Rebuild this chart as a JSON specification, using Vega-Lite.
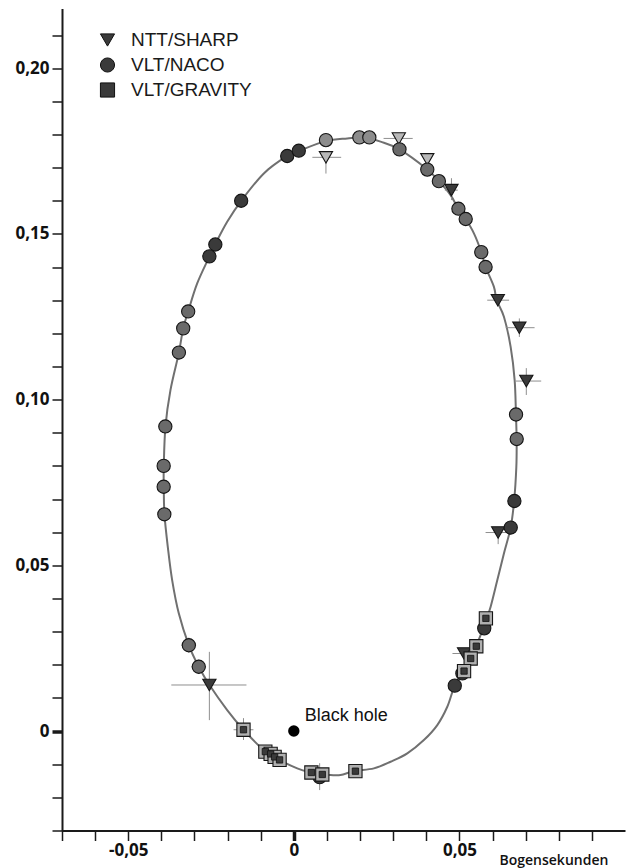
{
  "$schema": "https://vega.github.io/schema/vega-lite/v6.json",
  "width": 563,
  "height": 822,
  "autosize": {"type": "none"},
  "padding": {"left": 62, "top": 8.5, "right": 12, "bottom": 37.5},
  "background": "white",
  "config": {"view": {"stroke": null}},
  "datasets": {
    "bahn": [
      {"i": 1, "x": 0.01834, "y": -0.01207},
      {"i": 2, "x": 0.01411, "y": -0.01327},
      {"i": 3, "x": 0.01109, "y": -0.01327},
      {"i": 4, "x": 0.00837, "y": -0.01312},
      {"i": 5, "x": 0.00526, "y": -0.01252},
      {"i": 6, "x": 0.00103, "y": -0.01125},
      {"i": 7, "x": -0.00432, "y": -0.00875},
      {"i": 8, "x": -0.00855, "y": -0.00624},
      {"i": 9, "x": -0.0152, "y": 0.00039},
      {"i": 10, "x": -0.02012, "y": 0.00633},
      {"i": 11, "x": -0.02547, "y": 0.01388},
      {"i": 12, "x": -0.0287, "y": 0.0194},
      {"i": 13, "x": -0.03172, "y": 0.02594},
      {"i": 14, "x": -0.03474, "y": 0.03551},
      {"i": 15, "x": -0.03674, "y": 0.04555},
      {"i": 16, "x": -0.03801, "y": 0.0552},
      {"i": 17, "x": -0.03906, "y": 0.06537},
      {"i": 18, "x": -0.03927, "y": 0.0737},
      {"i": 19, "x": -0.03927, "y": 0.08003},
      {"i": 20, "x": -0.03876, "y": 0.09192},
      {"i": 21, "x": -0.03725, "y": 0.10287},
      {"i": 22, "x": -0.03474, "y": 0.11403},
      {"i": 23, "x": -0.03341, "y": 0.12148},
      {"i": 24, "x": -0.0319, "y": 0.12661},
      {"i": 25, "x": -0.02918, "y": 0.13505},
      {"i": 26, "x": -0.02547, "y": 0.1432},
      {"i": 27, "x": -0.02375, "y": 0.14682},
      {"i": 28, "x": -0.02012, "y": 0.15363},
      {"i": 29, "x": -0.01589, "y": 0.15997},
      {"i": 30, "x": -0.00906, "y": 0.16824},
      {"i": 31, "x": -0.00199, "y": 0.17354},
      {"i": 32, "x": 0.00151, "y": 0.17505},
      {"i": 33, "x": 0.00967, "y": 0.17798},
      {"i": 34, "x": 0.01613, "y": 0.17879},
      {"i": 35, "x": 0.02115, "y": 0.1791},
      {"i": 36, "x": 0.02619, "y": 0.17783},
      {"i": 37, "x": 0.03193, "y": 0.17548},
      {"i": 38, "x": 0.0403, "y": 0.16944},
      {"i": 39, "x": 0.04381, "y": 0.16591},
      {"i": 40, "x": 0.04734, "y": 0.16169},
      {"i": 41, "x": 0.04967, "y": 0.15756},
      {"i": 42, "x": 0.05187, "y": 0.15454},
      {"i": 43, "x": 0.05438, "y": 0.15014},
      {"i": 44, "x": 0.05662, "y": 0.14449},
      {"i": 45, "x": 0.05792, "y": 0.13997},
      {"i": 46, "x": 0.06042, "y": 0.13403},
      {"i": 47, "x": 0.06124, "y": 0.13002},
      {"i": 48, "x": 0.06344, "y": 0.12498},
      {"i": 49, "x": 0.06547, "y": 0.11593},
      {"i": 50, "x": 0.06668, "y": 0.10588},
      {"i": 51, "x": 0.06707, "y": 0.09563},
      {"i": 52, "x": 0.06728, "y": 0.08778},
      {"i": 53, "x": 0.06719, "y": 0.07973},
      {"i": 54, "x": 0.06653, "y": 0.06953},
      {"i": 55, "x": 0.06547, "y": 0.06139},
      {"i": 56, "x": 0.06344, "y": 0.0536},
      {"i": 57, "x": 0.06145, "y": 0.04555},
      {"i": 58, "x": 0.05943, "y": 0.0375},
      {"i": 59, "x": 0.05776, "y": 0.03258},
      {"i": 60, "x": 0.0552, "y": 0.02594},
      {"i": 61, "x": 0.05338, "y": 0.02187},
      {"i": 62, "x": 0.05142, "y": 0.0181},
      {"i": 63, "x": 0.04855, "y": 0.01357},
      {"i": 64, "x": 0.04634, "y": 0.00733},
      {"i": 65, "x": 0.04332, "y": 0.00181},
      {"i": 66, "x": 0.03927, "y": -0.00271},
      {"i": 67, "x": 0.03426, "y": -0.00673},
      {"i": 68, "x": 0.02921, "y": -0.00926},
      {"i": 69, "x": 0.02417, "y": -0.01125}
    ],
    "obs": [
      {"instrument": "NTT/SHARP", "gruppe": "c", "x": 0.0097, "y": 0.1731, "xlo": 0.0056, "xhi": 0.0143, "ylo": 0.1682, "yhi": 0.1748},
      {"instrument": "NTT/SHARP", "gruppe": "c", "x": 0.0317, "y": 0.1788, "xlo": 0.0271, "xhi": 0.0359},
      {"instrument": "NTT/SHARP", "gruppe": "c", "x": 0.0403, "y": 0.1725},
      {"instrument": "NTT/SHARP", "gruppe": "b", "x": 0.0476, "y": 0.1632, "xlo": 0.0456, "xhi": 0.0495, "ylo": 0.1602, "yhi": 0.1668},
      {"instrument": "NTT/SHARP", "gruppe": "b", "x": 0.0616, "y": 0.13, "xlo": 0.0584, "xhi": 0.065},
      {"instrument": "NTT/SHARP", "gruppe": "b", "x": 0.0681, "y": 0.1217, "xlo": 0.064, "xhi": 0.0727, "ylo": 0.1189, "yhi": 0.1245},
      {"instrument": "NTT/SHARP", "gruppe": "b", "x": 0.0702, "y": 0.1056, "xlo": 0.067, "xhi": 0.0747, "ylo": 0.1014, "yhi": 0.1095},
      {"instrument": "NTT/SHARP", "gruppe": "b", "x": 0.0617, "y": 0.0599, "xlo": 0.0579, "xhi": 0.065, "ylo": 0.0564, "yhi": 0.0614},
      {"instrument": "NTT/SHARP", "gruppe": "b", "x": 0.0514, "y": 0.0234, "xlo": 0.0479, "xhi": 0.0534},
      {"instrument": "NTT/SHARP", "gruppe": "b", "x": -0.0255, "y": 0.0139, "xlo": -0.037, "xhi": -0.0143, "ylo": 0.0033, "yhi": 0.0239},
      {"instrument": "VLT/NACO", "gruppe": "d", "x": 0.0097, "y": 0.1783},
      {"instrument": "VLT/NACO", "gruppe": "d", "x": 0.0198, "y": 0.1791},
      {"instrument": "VLT/NACO", "gruppe": "d", "x": 0.0228, "y": 0.1791},
      {"instrument": "VLT/NACO", "gruppe": "b", "x": -0.002, "y": 0.1735},
      {"instrument": "VLT/NACO", "gruppe": "b", "x": 0.0015, "y": 0.1751},
      {"instrument": "VLT/NACO", "gruppe": "b", "x": -0.0159, "y": 0.16},
      {"instrument": "VLT/NACO", "gruppe": "b", "x": -0.0237, "y": 0.1468},
      {"instrument": "VLT/NACO", "gruppe": "b", "x": -0.0255, "y": 0.1432},
      {"instrument": "VLT/NACO", "gruppe": "a", "x": -0.0319, "y": 0.1266},
      {"instrument": "VLT/NACO", "gruppe": "a", "x": -0.0334, "y": 0.1215},
      {"instrument": "VLT/NACO", "gruppe": "a", "x": -0.0347, "y": 0.1142},
      {"instrument": "VLT/NACO", "gruppe": "a", "x": -0.0388, "y": 0.0919},
      {"instrument": "VLT/NACO", "gruppe": "a", "x": -0.0393, "y": 0.08},
      {"instrument": "VLT/NACO", "gruppe": "a", "x": -0.0393, "y": 0.0737},
      {"instrument": "VLT/NACO", "gruppe": "a", "x": -0.0391, "y": 0.0654},
      {"instrument": "VLT/NACO", "gruppe": "a", "x": -0.0317, "y": 0.0259, "xlo": -0.034, "xhi": -0.0295, "ylo": 0.0237, "yhi": 0.0282},
      {"instrument": "VLT/NACO", "gruppe": "a", "x": -0.0287, "y": 0.0194, "xlo": -0.0309, "xhi": -0.0265, "ylo": 0.0172, "yhi": 0.0216},
      {"instrument": "VLT/NACO", "gruppe": "a", "x": 0.0319, "y": 0.1755},
      {"instrument": "VLT/NACO", "gruppe": "a", "x": 0.0403, "y": 0.1694},
      {"instrument": "VLT/NACO", "gruppe": "a", "x": 0.0438, "y": 0.1659},
      {"instrument": "VLT/NACO", "gruppe": "a", "x": 0.0497, "y": 0.1576},
      {"instrument": "VLT/NACO", "gruppe": "a", "x": 0.0519, "y": 0.1545},
      {"instrument": "VLT/NACO", "gruppe": "a", "x": 0.0566, "y": 0.1445},
      {"instrument": "VLT/NACO", "gruppe": "a", "x": 0.0579, "y": 0.14},
      {"instrument": "VLT/NACO", "gruppe": "a", "x": 0.0671, "y": 0.0955},
      {"instrument": "VLT/NACO", "gruppe": "a", "x": 0.0673, "y": 0.0881},
      {"instrument": "VLT/NACO", "gruppe": "b", "x": 0.0666, "y": 0.0694},
      {"instrument": "VLT/NACO", "gruppe": "b", "x": 0.0655, "y": 0.0614},
      {"instrument": "VLT/NACO", "gruppe": "b", "x": 0.0575, "y": 0.031},
      {"instrument": "VLT/NACO", "gruppe": "b", "x": 0.0509, "y": 0.0174},
      {"instrument": "VLT/NACO", "gruppe": "b", "x": 0.0486, "y": 0.0137},
      {"instrument": "VLT/NACO", "gruppe": "b", "x": 0.0078, "y": -0.0139, "ylo": -0.0178, "yhi": -0.0097},
      {"instrument": "VLT/GRAVITY", "gruppe": "e", "x": -0.0152, "y": 0.0004, "xlo": -0.0182, "xhi": -0.0122, "ylo": -0.0027, "yhi": 0.0039},
      {"instrument": "VLT/GRAVITY", "gruppe": "e", "x": -0.0086, "y": -0.0062},
      {"instrument": "VLT/GRAVITY", "gruppe": "e", "x": -0.007, "y": -0.0069},
      {"instrument": "VLT/GRAVITY", "gruppe": "e", "x": -0.0058, "y": -0.0078},
      {"instrument": "VLT/GRAVITY", "gruppe": "e", "x": -0.0043, "y": -0.0087},
      {"instrument": "VLT/GRAVITY", "gruppe": "e", "x": 0.0053, "y": -0.0125},
      {"instrument": "VLT/GRAVITY", "gruppe": "e", "x": 0.0086, "y": -0.0131},
      {"instrument": "VLT/GRAVITY", "gruppe": "e", "x": 0.0186, "y": -0.0121},
      {"instrument": "VLT/GRAVITY", "gruppe": "e", "x": 0.058, "y": 0.034},
      {"instrument": "VLT/GRAVITY", "gruppe": "e", "x": 0.0551, "y": 0.0256},
      {"instrument": "VLT/GRAVITY", "gruppe": "e", "x": 0.0534, "y": 0.0219},
      {"instrument": "VLT/GRAVITY", "gruppe": "e", "x": 0.0514, "y": 0.0181}
    ],
    "bh": [{"x": 0, "y": 0, "name": "Black hole"}]
  },
  "layer": [
    {
      "data": {"name": "bahn"},
      "mark": {"type": "line", "interpolate": "cardinal-closed", "color": "#707070", "strokeWidth": 2},
      "encoding": {
        "order": {"field": "i", "type": "quantitative"},
        "x": {
          "field": "x", "type": "quantitative", "title": "Bogensekunden",
          "scale": {"domain": [-0.07, 0.1], "nice": false, "zero": false},
          "axis": {
            "values": [-0.07, -0.06, -0.05, -0.04, -0.03, -0.02, -0.01, 0, 0.01, 0.02, 0.03, 0.04, 0.05, 0.06, 0.07, 0.08, 0.09],
            "tickCount": 100,
            "labelExpr": "abs(round(datum.value*100)) % 5 == 0 ? (round(datum.value*100) == 0 ? '0' : (datum.value < 0 ? '-' : '') + replace(format(abs(datum.value), '.2f'), '.', ',')) : ''",
            "grid": false,
            "domainColor": "#1a1a1a", "domainWidth": 2,
            "tickColor": "#1a1a1a", "tickSize": 10,
            "tickWidth": {"condition": {"test": "round(datum.value*100) == 0", "value": 3.5}, "value": 1.5},
            "labelFont": "Open Sans", "labelFontWeight": "bold", "labelFontSize": 17, "labelColor": "#111111",
            "labelPadding": 2, "labelOverlap": false, "labelFlush": false,
            "titleFont": "Open Sans", "titleFontWeight": 600, "titleFontSize": 14, "titleColor": "#111111",
            "titleX": 437, "titleY": 34, "titleAlign": "left", "titleBaseline": "alphabetic", "titleAnchor": "start"
          }
        },
        "y": {
          "field": "y", "type": "quantitative", "title": null,
          "scale": {"domain": [-0.03, 0.218], "nice": false, "zero": false},
          "axis": {
            "values": [-0.03, -0.02, -0.01, 0, 0.01, 0.02, 0.03, 0.04, 0.05, 0.06, 0.07, 0.08, 0.09, 0.1, 0.11, 0.12, 0.13, 0.14, 0.15, 0.16, 0.17, 0.18, 0.19, 0.2, 0.21],
            "tickCount": 100,
            "labelExpr": "abs(round(datum.value*100)) % 5 == 0 && datum.value > -0.01 ? (round(datum.value*100) == 0 ? '0' : replace(format(datum.value, '.2f'), '.', ',')) : ''",
            "grid": false,
            "domainColor": "#1a1a1a", "domainWidth": 2,
            "tickColor": "#1a1a1a", "tickSize": 10,
            "tickWidth": {"condition": {"test": "round(datum.value*100) == 0", "value": 3.5}, "value": 1.5},
            "labelFont": "Open Sans", "labelFontWeight": "bold", "labelFontSize": 17, "labelColor": "#111111",
            "labelPadding": 3, "labelOverlap": false, "labelFlush": false
          }
        }
      }
    },
    {
      "data": {"name": "obs"},
      "transform": [{"filter": "isValid(datum.xlo)"}],
      "mark": {"type": "rule", "color": "#8f8f8f", "strokeWidth": 1},
      "encoding": {
        "x": {"field": "xlo", "type": "quantitative", "title": "Bogensekunden"},
        "x2": {"field": "xhi"},
        "y": {"field": "y", "type": "quantitative", "title": null}
      }
    },
    {
      "data": {"name": "obs"},
      "transform": [{"filter": "isValid(datum.ylo)"}],
      "mark": {"type": "rule", "color": "#8f8f8f", "strokeWidth": 1},
      "encoding": {
        "x": {"field": "x", "type": "quantitative", "title": "Bogensekunden"},
        "y": {"field": "ylo", "type": "quantitative", "title": null},
        "y2": {"field": "yhi"}
      }
    },
    {
      "data": {"name": "obs"},
      "mark": {"type": "point", "filled": true, "size": 175, "stroke": "#151515", "strokeWidth": 1.1, "opacity": 1},
      "encoding": {
        "x": {"field": "x", "type": "quantitative", "title": "Bogensekunden"},
        "y": {"field": "y", "type": "quantitative", "title": null},
        "shape": {
          "field": "instrument", "type": "nominal",
          "scale": {"domain": ["NTT/SHARP", "VLT/NACO", "VLT/GRAVITY"], "range": ["triangle-down", "circle", "square"]},
          "legend": {
            "title": null, "orient": "none", "legendX": 36, "legendY": 22,
            "padding": 0, "rowPadding": 5, "symbolSize": 200,
            "symbolFillColor": "#3a3a3a", "symbolStrokeColor": "#111111", "symbolStrokeWidth": 1,
            "labelFont": "Liberation Sans", "labelFontSize": 19, "labelColor": "#1a1a1a", "labelOffset": 14
          }
        },
        "fill": {
          "field": "gruppe", "type": "nominal",
          "scale": {"domain": ["a", "b", "c", "d", "e"], "range": ["#6a6a6a", "#3a3a3a", "#b8b8b8", "#8c8c8c", "#b0b0b0"]},
          "legend": null
        }
      }
    },
    {
      "data": {"name": "obs"},
      "transform": [{"filter": "datum.instrument == 'VLT/GRAVITY'"}],
      "mark": {"type": "point", "shape": "square", "filled": true, "size": 40, "color": "#3a3a3a", "stroke": "#111111", "strokeWidth": 0.8, "opacity": 1},
      "encoding": {
        "x": {"field": "x", "type": "quantitative", "title": "Bogensekunden"},
        "y": {"field": "y", "type": "quantitative", "title": null}
      }
    },
    {
      "data": {"name": "bh"},
      "mark": {"type": "point", "shape": "circle", "filled": true, "size": 130, "color": "#000000", "opacity": 1},
      "encoding": {
        "x": {"field": "x", "type": "quantitative", "title": "Bogensekunden"},
        "y": {"field": "y", "type": "quantitative", "title": null}
      }
    },
    {
      "data": {"name": "bh"},
      "mark": {"type": "text", "align": "left", "baseline": "alphabetic", "dx": 11, "dy": -10, "font": "Liberation Sans", "fontSize": 18, "color": "#111111"},
      "encoding": {
        "x": {"field": "x", "type": "quantitative", "title": "Bogensekunden"},
        "y": {"field": "y", "type": "quantitative", "title": null},
        "text": {"field": "name"}
      }
    }
  ]
}
